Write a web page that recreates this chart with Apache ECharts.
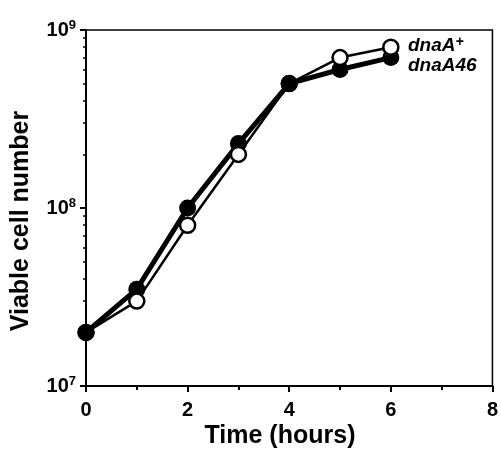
<!DOCTYPE html>
<html>
<head>
<meta charset="utf-8">
<script src="https://cdn.jsdelivr.net/npm/echarts@6/dist/echarts.min.js"></script>
<style>html,body{margin:0;padding:0;background:#fff;}#c{width:501px;height:449px;}</style>
</head>
<body>
<div id="c"></div>
<script>
const hours = [0, 1, 2, 3, 4, 5, 6];
const dnaAplus = [2e7, 3e7, 8e7, 2e8, 5e8, 7e8, 8e8];
const dnaA46 = [2e7, 3.5e7, 1e8, 2.3e8, 5e8, 6e8, 7e8];
const yMajor = [1e7, 1e8, 1e9];
const yMinor = [2e7,3e7,4e7,5e7,6e7,7e7,8e7,9e7,2e8,3e8,4e8,5e8,6e8,7e8,8e8,9e8];
const seriesNames = ['dnaA+', 'dnaA46'];
const xTitle = 'Time (hours)';
const yTitle = 'Viable cell number';

const FONT = 'Liberation Sans, Arial, Helvetica, sans-serif';
const chart = echarts.init(document.getElementById('c'), null, {renderer: 'canvas'});

// points where the filled marker hides the open one
const hiddenOpen = [0, 4];
const plusData = hours.map((h, i) => hiddenOpen.includes(i)
  ? {value: [h, dnaAplus[i]], itemStyle: {color: '#000'}}
  : [h, dnaAplus[i]]);
const a46Data = hours.map((h, i) => [h, dnaA46[i]]);

chart.setOption({
  animation: false,
  backgroundColor: '#fff',
  grid: {left: 86, right: 4, top: 30, bottom: 63, show: true, borderColor: '#000', borderWidth: 1.5},
  xAxis: {
    type: 'value', min: 0, max: 8, interval: 2,
    axisLine: {lineStyle: {color: '#000', width: 2}},
    axisTick: {inside: false, length: 6, lineStyle: {color: '#000', width: 2}},
    minorTick: {show: true, splitNumber: 2, length: 4, lineStyle: {color: '#000', width: 2}},
    splitLine: {show: false},
    axisLabel: {fontFamily: FONT, fontWeight: 'bold', fontSize: 20, color: '#000', margin: 14}
  },
  yAxis: [{
    type: 'log', logBase: 10, min: 1e7, max: 1e9, interval: 1,
    axisLine: {show: true, lineStyle: {color: '#000', width: 2}},
    axisTick: {show: true, length: 6, lineStyle: {color: '#000', width: 2}},
    splitLine: {show: false},
    axisLabel: {
      margin: 10,
      color: '#000',
      formatter: v => '{b|10}{s|' + Math.round(Math.log10(v)) + '}',
      rich: {
        b: {fontFamily: FONT, fontWeight: 'bold', fontSize: 20, color: '#000'},
        s: {fontFamily: FONT, fontWeight: 'bold', fontSize: 13, color: '#000', verticalAlign: 'top', padding: [0, 0, 10, 0]}
      }
    }
  }, {
    type: 'log', logBase: 10, min: 1e7, max: 1e9, position: 'left',
    axisLine: {show: false},
    axisTick: {show: true, length: 3, customValues: yMinor, lineStyle: {color: '#000', width: 1.5}},
    axisLabel: {show: false},
    splitLine: {show: false}
  }],
  series: [{
    name: seriesNames[1], type: 'line', data: a46Data,
    symbol: 'circle', symbolSize: 17,
    lineStyle: {color: '#000', width: 5},
    itemStyle: {color: '#000', borderColor: '#000', borderWidth: 0},
    z: 2
  }, {
    name: seriesNames[0], type: 'line', data: plusData,
    symbol: 'circle', symbolSize: 15,
    lineStyle: {color: '#000', width: 2.5},
    itemStyle: {color: '#fff', borderColor: '#000', borderWidth: 2.5},
    z: 3
  }],
  graphic: [{
    type: 'text', x: 280, y: 436,
    style: {text: xTitle, fontFamily: FONT, fontWeight: 'bold', fontSize: 25, fill: '#000', textAlign: 'center', textVerticalAlign: 'middle'}
  }, {
    type: 'text', x: 21, y: 221, rotation: Math.PI / 2,
    style: {text: yTitle, fontFamily: FONT, fontWeight: 'bold', fontSize: 25, fill: '#000', textAlign: 'center', textVerticalAlign: 'middle'}
  }, {
    type: 'text', x: 408, y: 46,
    style: {text: '{a|dnaA}{s|+}', textVerticalAlign: 'middle',
      rich: {a: {fontFamily: FONT, fontWeight: 'bold', fontStyle: 'italic', fontSize: 19, fill: '#000'},
             s: {fontFamily: FONT, fontWeight: 'bold', fontStyle: 'italic', fontSize: 14, fill: '#000', verticalAlign: 'top', padding: [0,0,7,0]}}}
  }, {
    type: 'text', x: 408, y: 66,
    style: {text: seriesNames[1], fontFamily: FONT, fontWeight: 'bold', fontStyle: 'italic', fontSize: 19, fill: '#000', textVerticalAlign: 'middle'}
  }]
});
</script>
</body>
</html>
